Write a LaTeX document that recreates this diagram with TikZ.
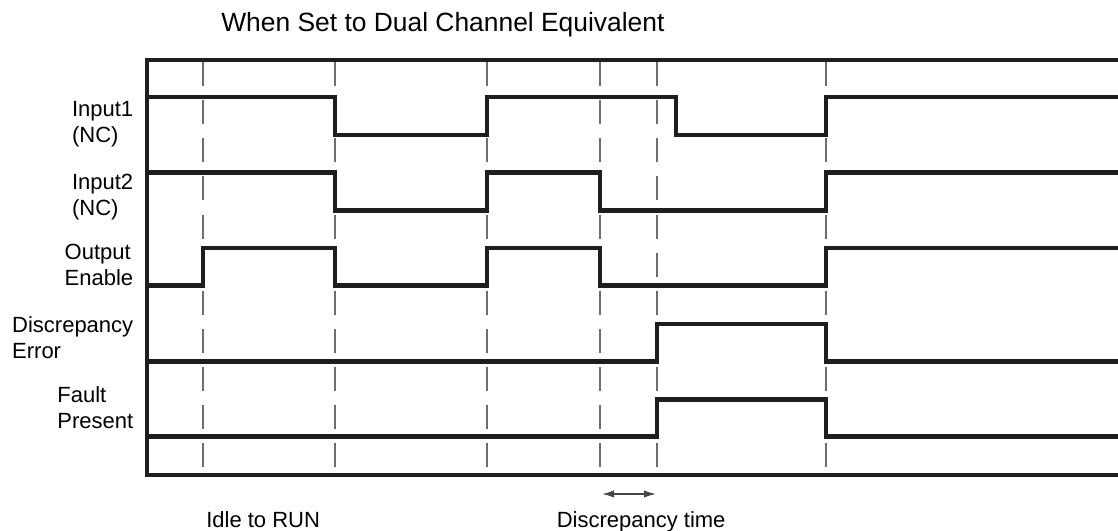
\documentclass[tikz,border=0pt]{standalone}
\usepackage{fontspec}
\setmainfont{Liberation Sans}
\usetikzlibrary{arrows.meta}
\definecolor{dashgray}{RGB}{110,110,110}
\definecolor{arrgray}{RGB}{70,70,70}
\definecolor{ink}{RGB}{30,30,30}
\begin{document}
\begin{tikzpicture}[x=0.75pt,y=-0.75pt,
  frame/.style={line width=3.7pt, ink, line join=miter},
  sig/.style={line width=3.5pt, ink, line join=miter},
  gridline/.style={line width=1.5pt, dashgray, dash pattern=on 18pt off 10.6pt},
  lbl/.style={font=\fontsize{16.5}{19.5}\selectfont, align=left, anchor=east, inner sep=0pt},
  btxt/.style={font=\fontsize{16.5}{19.5}\selectfont, anchor=base west, inner sep=0pt},
  dtarrow/.style={arrgray, line width=1.2pt, {Latex[length=9pt,width=5.5pt]}-{Latex[length=9pt,width=5.5pt]}}]
\useasboundingbox (0,0) rectangle (1118,531);
\clip (0,0) rectangle (1118,531);

% title
\node[anchor=base west, inner sep=0pt, font=\fontsize{19.8}{24}\selectfont] (title) at (221,32) {When Set to Dual Channel Equivalent};

% dashed time markers
\foreach \x in {203,335,487,600,657,826}
  \draw[gridline] (\x,62) -- (\x,475);

% frame
\draw[frame] (1130,60) -- (147,60) -- (147,475) -- (1130,475);

% signals
\draw[sig] (147,97) -| (335,135) -| (487,97) -| (676,135) -| (826,97) -- (1130,97);
\draw[sig] (147,172.5) -| (335,210.5) -| (487,172.5) -| (600,210.5) -| (826,172.5) -- (1130,172.5);
\draw[sig] (147,285.5) -| (203,248) -| (335,285.5) -| (487,248) -| (600,285.5) -| (826,248) -- (1130,248);
\draw[sig] (147,361.8) -| (657,324) -| (826,361.8) -- (1130,361.8);
\draw[sig] (147,436.8) -| (657,399.5) -| (826,436.8) -- (1130,436.8);

% labels
\node[lbl] (in1) at (133.5,124) {Input1\\(NC)};
\node[lbl] (in2) at (133.5,197) {Input2\\(NC)};
\node[lbl] (oe) at (133.5,264.5) {Output\\Enable};
\node[lbl] (de) at (133.5,337.5) {Discrepancy\\Error};
\node[lbl] (fp) at (133.5,407.5) {Fault\\Present};

% bottom annotations
\coordinate (dtl) at (602,494);
\coordinate (dtr) at (656,494);
\draw[dtarrow] (dtl) -- (dtr);
\node[btxt] (idle) at (206,527.5) {Idle to RUN};
\node[btxt] (dtime) at (556.5,527) {Discrepancy time};
\end{tikzpicture}
\end{document}
